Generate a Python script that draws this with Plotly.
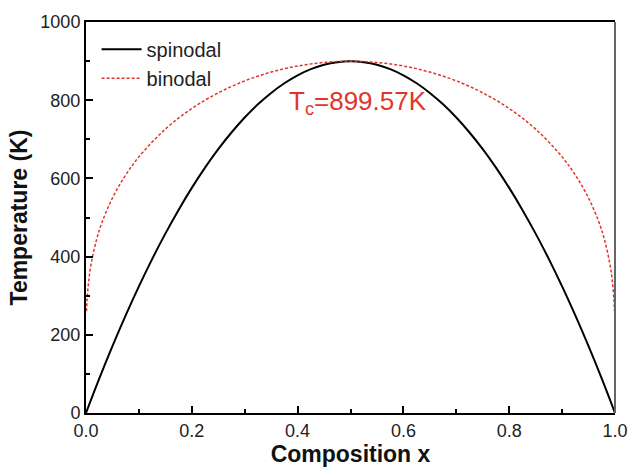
import plotly.graph_objects as go

# Spinodal curve
spin_x = [0.0, 0.025, 0.05, 0.075, 0.1, 0.125, 0.15, 0.175, 0.2, 0.225, 0.25, 0.275, 0.3, 0.325, 0.35, 0.375,
          0.4, 0.425, 0.45, 0.475, 0.5, 0.525, 0.55, 0.575, 0.6, 0.625, 0.65, 0.675, 0.7, 0.725, 0.75,
          0.775, 0.8, 0.825, 0.85, 0.875, 0.9, 0.925, 0.95, 0.975, 1.0]
spin_T = [0, 87.7, 170.9, 249.6, 323.8, 393.6, 458.8, 519.5, 575.7, 627.5, 674.7, 717.4, 755.6, 789.4, 818.6, 843.3,
          863.6, 879.3, 890.6, 897.3, 899.6, 897.3, 890.6, 879.3, 863.6, 843.3, 818.6, 789.4, 755.6, 717.4, 674.7,
          627.5, 575.7, 519.5, 458.8, 393.6, 323.8, 249.6, 170.9, 87.7, 0]

# Binodal curve
bin_x = [0.001, 0.002, 0.005, 0.01, 0.02, 0.03, 0.05, 0.075, 0.1, 0.15, 0.2, 0.25, 0.3, 0.35, 0.4, 0.45, 0.5,
         0.55, 0.6, 0.65, 0.7, 0.75, 0.8, 0.85, 0.9, 0.925, 0.95, 0.97, 0.98, 0.99, 0.995, 0.998, 0.999]
bin_T = [260.0, 288.4, 336.5, 383.7, 443.8, 486.5, 549.9, 608.7, 655.1, 726.0, 778.7, 818.8, 849.4, 871.9, 887.4, 896.5, 899.6,
         896.5, 887.4, 871.9, 849.4, 818.8, 778.7, 726.0, 655.1, 608.7, 549.9, 486.5, 443.8, 383.7, 336.5, 288.4, 260.0]

x_ticks = [0.0, 0.2, 0.4, 0.6, 0.8, 1.0]
y_ticks = [0, 200, 400, 600, 800, 1000]

RED = "#e3342b"
FONT = "Liberation Sans, Arial, sans-serif"

fig = go.Figure()
fig.add_trace(go.Scatter(x=spin_x, y=spin_T, mode="lines", name="spinodal",
                         line=dict(color="black", width=2), line_shape="spline"))
fig.add_trace(go.Scatter(x=bin_x, y=bin_T, mode="lines", name="binodal",
                         line=dict(color=RED, width=1.5, dash="3px,2px"), line_shape="spline"))

fig.add_annotation(x=0.515, y=795, xref="x", yref="y", showarrow=False,
                   text="T<sub>c</sub>=899.57K", font=dict(family=FONT, size=26, color=RED))

# right frame line (grey in the reference)
fig.add_shape(type="line", xref="paper", yref="paper", x0=1, x1=1, y0=0, y1=1,
              line=dict(color="#666666", width=2))

tickfont = dict(family=FONT, size=18, color="#222")
common = dict(showgrid=False, zeroline=False, showline=True, linecolor="black", linewidth=2,
              ticks="inside", ticklen=7, tickwidth=1.5, tickcolor="black", tickfont=tickfont,
              automargin=False)

fig.update_xaxes(range=[0, 1], tickvals=x_ticks, tickformat=".1f", mirror=True,
                 minor=dict(ticks="inside", ticklen=4, tickwidth=1.5, tickcolor="black", dtick=0.1),
                 title=dict(text="<b>Composition x</b>", font=dict(family=FONT, size=23, color="#111"), standoff=2),
                 **common)
fig.update_yaxes(range=[0, 1000], tickvals=y_ticks, mirror=False,
                 minor=dict(ticks="inside", ticklen=4, tickwidth=1.5, tickcolor="black", dtick=100),
                 title=dict(text="<b>Temperature (K)</b>", font=dict(family=FONT, size=23, color="#111"), standoff=6),
                 **common)

fig.update_layout(
    width=628, height=469,
    margin=dict(l=86, r=13, t=22, b=56),
    plot_bgcolor="white", paper_bgcolor="white",
    font=dict(family=FONT, size=18, color="#222"),
    legend=dict(x=0.02, y=0.98, xanchor="left", yanchor="top", bgcolor="rgba(0,0,0,0)",
                font=dict(family=FONT, size=20, color="#222"), tracegroupgap=0, itemwidth=40),
    showlegend=True,
)

fig.write_html("out.html")
